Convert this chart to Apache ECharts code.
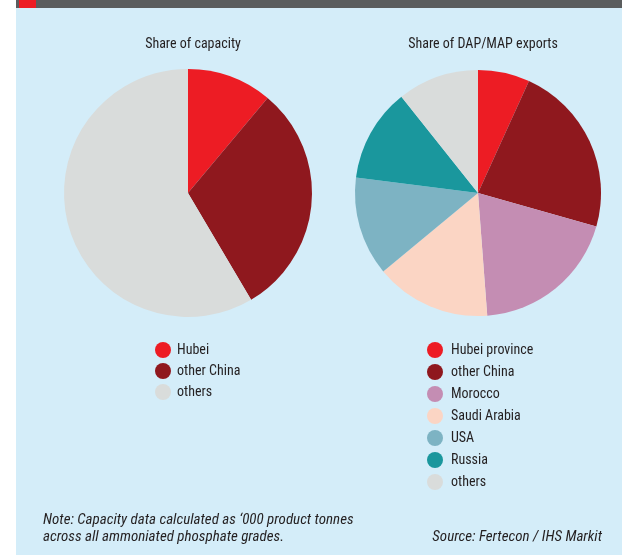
<!DOCTYPE html>
<html>
<head>
<meta charset="utf-8">
<script src="https://cdn.jsdelivr.net/npm/echarts@6/dist/echarts.min.js"></script>
<style>
  html, body { margin: 0; padding: 0; background: #ffffff; }
  #main { width: 622px; height: 555px; }
</style>
</head>
<body>
<div id="main"></div>
<script>
// 数据
var capNames = ["Hubei", "other China", "others"];
var capValues = [11.1, 30.4, 58.5];
var capColors = ["#ed1c24", "#8f181e", "#d9dcdb"];

var expNames = ["Hubei province", "other China", "Morocco", "Saudi Arabia", "USA", "Russia", "others"];
var expValues = [6.8, 22.6, 19.4, 15.2, 13.0, 12.3, 10.7];
var expColors = ["#ed1c24", "#8f181e", "#c48db3", "#fbd5c4", "#7db3c3", "#1a979d", "#d9dcdb"];

var font = "'Liberation Sans Narrow', 'Roboto Condensed', 'Liberation Sans', sans-serif";
var textColor = "#231f20";

function toData(names, values, colors) {
  return names.map(function (n, i) {
    return { name: n, value: values[i], itemStyle: { color: colors[i] } };
  });
}

var myChart = echarts.init(document.getElementById("main"));

var option = {
  animation: false,
  graphic: [
    { type: "rect", shape: { x: 16, y: 0, width: 606, height: 555 }, style: { fill: "#d4edf9" }, z: -10 },
    { type: "rect", shape: { x: 16, y: 0, width: 606, height: 8 }, style: { fill: "#5a5d5e" }, z: -9 },
    { type: "rect", shape: { x: 19, y: 0, width: 17, height: 8 }, style: { fill: "#ed1c24" }, z: -8 }
  ],
  title: [
    { text: "Share of capacity", left: 188, top: 32, textAlign: "center",
      textStyle: { fontFamily: font, fontSize: 14, fontWeight: "normal", color: textColor } },
    { text: "Share of DAP/MAP exports", left: 478, top: 32, textAlign: "center",
      textStyle: { fontFamily: font, fontSize: 14, fontWeight: "normal", color: textColor } },
    { text: "Note: Capacity data calculated as \u2018000 product tonnes\nacross all ammoniated phosphate grades.", left: 43, top: 512,
      padding: 0,
      textStyle: { fontFamily: font, fontSize: 15, fontWeight: "normal", fontStyle: "italic", color: textColor, lineHeight: 17 } },
    { text: "Source: Fertecon / IHS Markit", right: 20, top: 529, padding: 0,
      textStyle: { fontFamily: font, fontSize: 15, fontWeight: "normal", fontStyle: "italic", color: textColor, lineHeight: 17 } }
  ],
  legend: [
    {
      data: capNames, orient: "vertical", left: 155, top: 342,
      icon: "circle", itemWidth: 16, itemHeight: 16, itemGap: 5, padding: 0,
      selectedMode: false,
      textStyle: { fontFamily: font, fontSize: 14, color: textColor, padding: [0, 0, 0, 1] }
    },
    {
      data: expNames, orient: "vertical", left: 427, top: 342,
      icon: "circle", itemWidth: 16, itemHeight: 16, itemGap: 6, padding: 0,
      selectedMode: false,
      textStyle: { fontFamily: font, fontSize: 14, color: textColor, padding: [0, 0, 0, 3] }
    }
  ],
  series: [
    {
      type: "pie", center: [188, 193], radius: 124, startAngle: 90,
      label: { show: false }, labelLine: { show: false },
      emphasis: { disabled: true }, silent: true,
      data: toData(capNames, capValues, capColors)
    },
    {
      type: "pie", center: [478, 193], radius: 123, startAngle: 90,
      label: { show: false }, labelLine: { show: false },
      emphasis: { disabled: true }, silent: true,
      data: toData(expNames, expValues, expColors)
    }
  ]
};

myChart.setOption(option);
</script>
</body>
</html>
